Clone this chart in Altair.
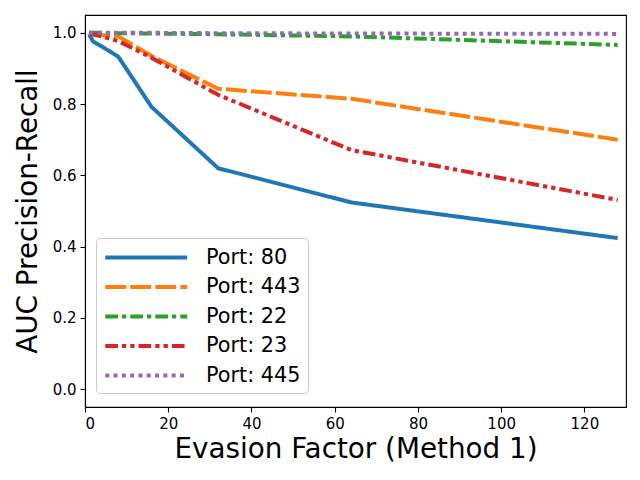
import altair as alt
import pandas as pd

x_vals = [1, 2, 4, 8, 16, 32, 64, 128]
ports = ["Port: 80", "Port: 443", "Port: 22", "Port: 23", "Port: 445"]
p80 = [0.995, 0.975, 0.962, 0.933, 0.792, 0.620, 0.524, 0.424]
p443 = [1.0, 0.997, 0.994, 0.990, 0.935, 0.843, 0.815, 0.700]
p22 = [1.0, 1.0, 1.0, 0.999, 0.998, 0.996, 0.990, 0.966]
p23 = [1.0, 0.995, 0.990, 0.977, 0.930, 0.826, 0.671, 0.531]
p445 = [1.0, 1.0, 1.0, 1.0, 1.0, 0.999, 0.998, 0.997]
series = [p80, p443, p22, p23, p445]
colors = ["#1f77b4", "#ff7f0e", "#2ca02c", "#d62728", "#9467bd"]
dashes = [[1, 0], [21, 4], [12.7, 4, 4.3, 4], [12.7, 4, 4.3, 4, 4.3, 4], [4, 4.3]]
x_ticks = [0, 20, 40, 60, 80, 100, 120]
y_ticks = [0.0, 0.2, 0.4, 0.6, 0.8, 1.0]

rows = []
for i, (name, vals) in enumerate(zip(ports, series)):
    for xv, yv in zip(x_vals, vals):
        rows.append({"port": name, "order": i, "x": xv, "y": yv})
df = pd.DataFrame(rows)

legend = alt.Legend(
    title=None,
    orient="none",
    legendX=11,
    legendY=223,
    symbolType="M-1,0H7",
    symbolSize=420,
    symbolStrokeWidth=4,
    labelFontSize=20.8,
    labelOffset=78,
    rowPadding=6.5,
    padding=7,
    fillColor="rgba(255,255,255,0.8)",
    strokeColor="#cccccc",
    cornerRadius=4,
    labelColor="black",
)

chart = alt.Chart(df).mark_line(strokeWidth=4, strokeCap="butt", strokeJoin="round").encode(
    x=alt.X("x:Q", scale=alt.Scale(domain=[0, 130], nice=False, zero=False),
            axis=alt.Axis(values=x_ticks, title="Evasion Factor (Method 1)", format="d")),
    y=alt.Y("y:Q", scale=alt.Scale(domain=[-0.05, 1.05], nice=False, zero=False),
            axis=alt.Axis(values=y_ticks, title="AUC Precision-Recall", format=".1f")),
    color=alt.Color("port:N", scale=alt.Scale(domain=ports, range=colors), legend=legend),
    strokeDash=alt.StrokeDash("port:N", scale=alt.Scale(domain=ports, range=dashes), legend=legend),
    order=alt.Order("order:Q"),
    detail="port:N",
).properties(
    width=541,
    height=392,
    autosize=alt.AutoSizeParams(type="none"),
    padding={"left": 77, "top": 7, "right": 6, "bottom": 65},
).configure(
    font="DejaVu Sans",
).configure_view(
    stroke="black",
    strokeWidth=1.1,
).configure_axis(
    grid=False,
    domainColor="black",
    domainWidth=1.1,
    tickColor="black",
    tickWidth=1.1,
    tickSize=5,
    labelPadding=4,
    labelFontSize=15,
    labelColor="black",
    titleFontSize=27.8,
    titleFontWeight="normal",
    titleColor="black",
).configure_axisX(
    titlePadding=4,
    labelAngle=0,
).configure_axisY(
    titlePadding=10,
)

chart.save("out.html", embed_options={"renderer": "svg", "actions": False})
